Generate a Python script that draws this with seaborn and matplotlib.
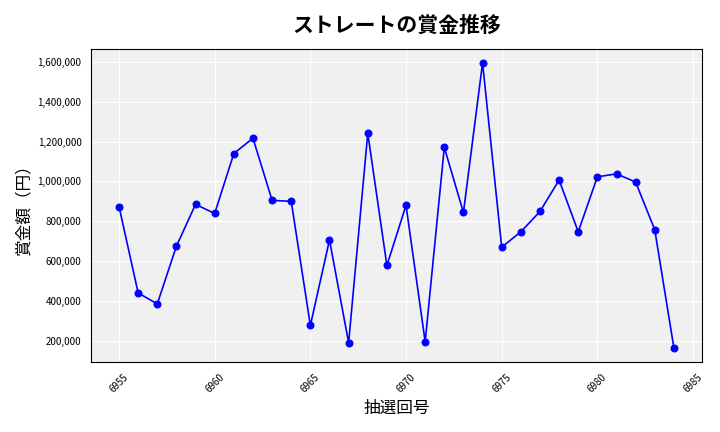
import matplotlib
matplotlib.use("Agg")
import matplotlib.pyplot as plt
import matplotlib.ticker as mticker
import pandas as pd
import seaborn as sns

draws = list(range(6955, 6985))
prizes = [874000, 440000, 385000, 675000, 885000, 839000, 1140000, 1217000, 905000, 900000,
          277000, 706000, 190000, 1242000, 578000, 880000, 195000, 1171000, 844000, 1595000,
          670000, 747000, 849000, 1007000, 747000, 1023000, 1038000, 997000, 757000, 164000]

df = pd.DataFrame({"draw": draws, "prize": prizes})

sns.set_style("darkgrid", {"axes.facecolor": "#f0f0f0", "grid.color": "white"})
plt.rcParams["font.family"] = ["Noto Sans CJK JP", "DejaVu Sans"]

fig, ax = plt.subplots(figsize=(7.2, 4.32), dpi=100)
sns.lineplot(data=df, x="draw", y="prize", ax=ax, color="blue", marker="o",
             markersize=5, markeredgecolor="blue", linewidth=1.2)
ax.set_title("ストレートの賞金推移", fontsize=15, fontweight="bold", pad=12, color="black")
ax.set_xlabel("抽選回号", fontsize=12, color="black")
ax.set_ylabel("賞金額（円）", fontsize=12, color="black")
ax.yaxis.set_major_formatter(mticker.FuncFormatter(lambda v, p: f"{int(v):,}"))
ax.tick_params(axis="x", rotation=45, labelsize=7, colors="black")
ax.tick_params(axis="y", labelsize=7, colors="black")
for s in ax.spines.values():
    s.set_visible(True)
    s.set_color("black")
    s.set_linewidth(0.8)
fig.tight_layout()
fig.savefig("out.png", dpi=100)
